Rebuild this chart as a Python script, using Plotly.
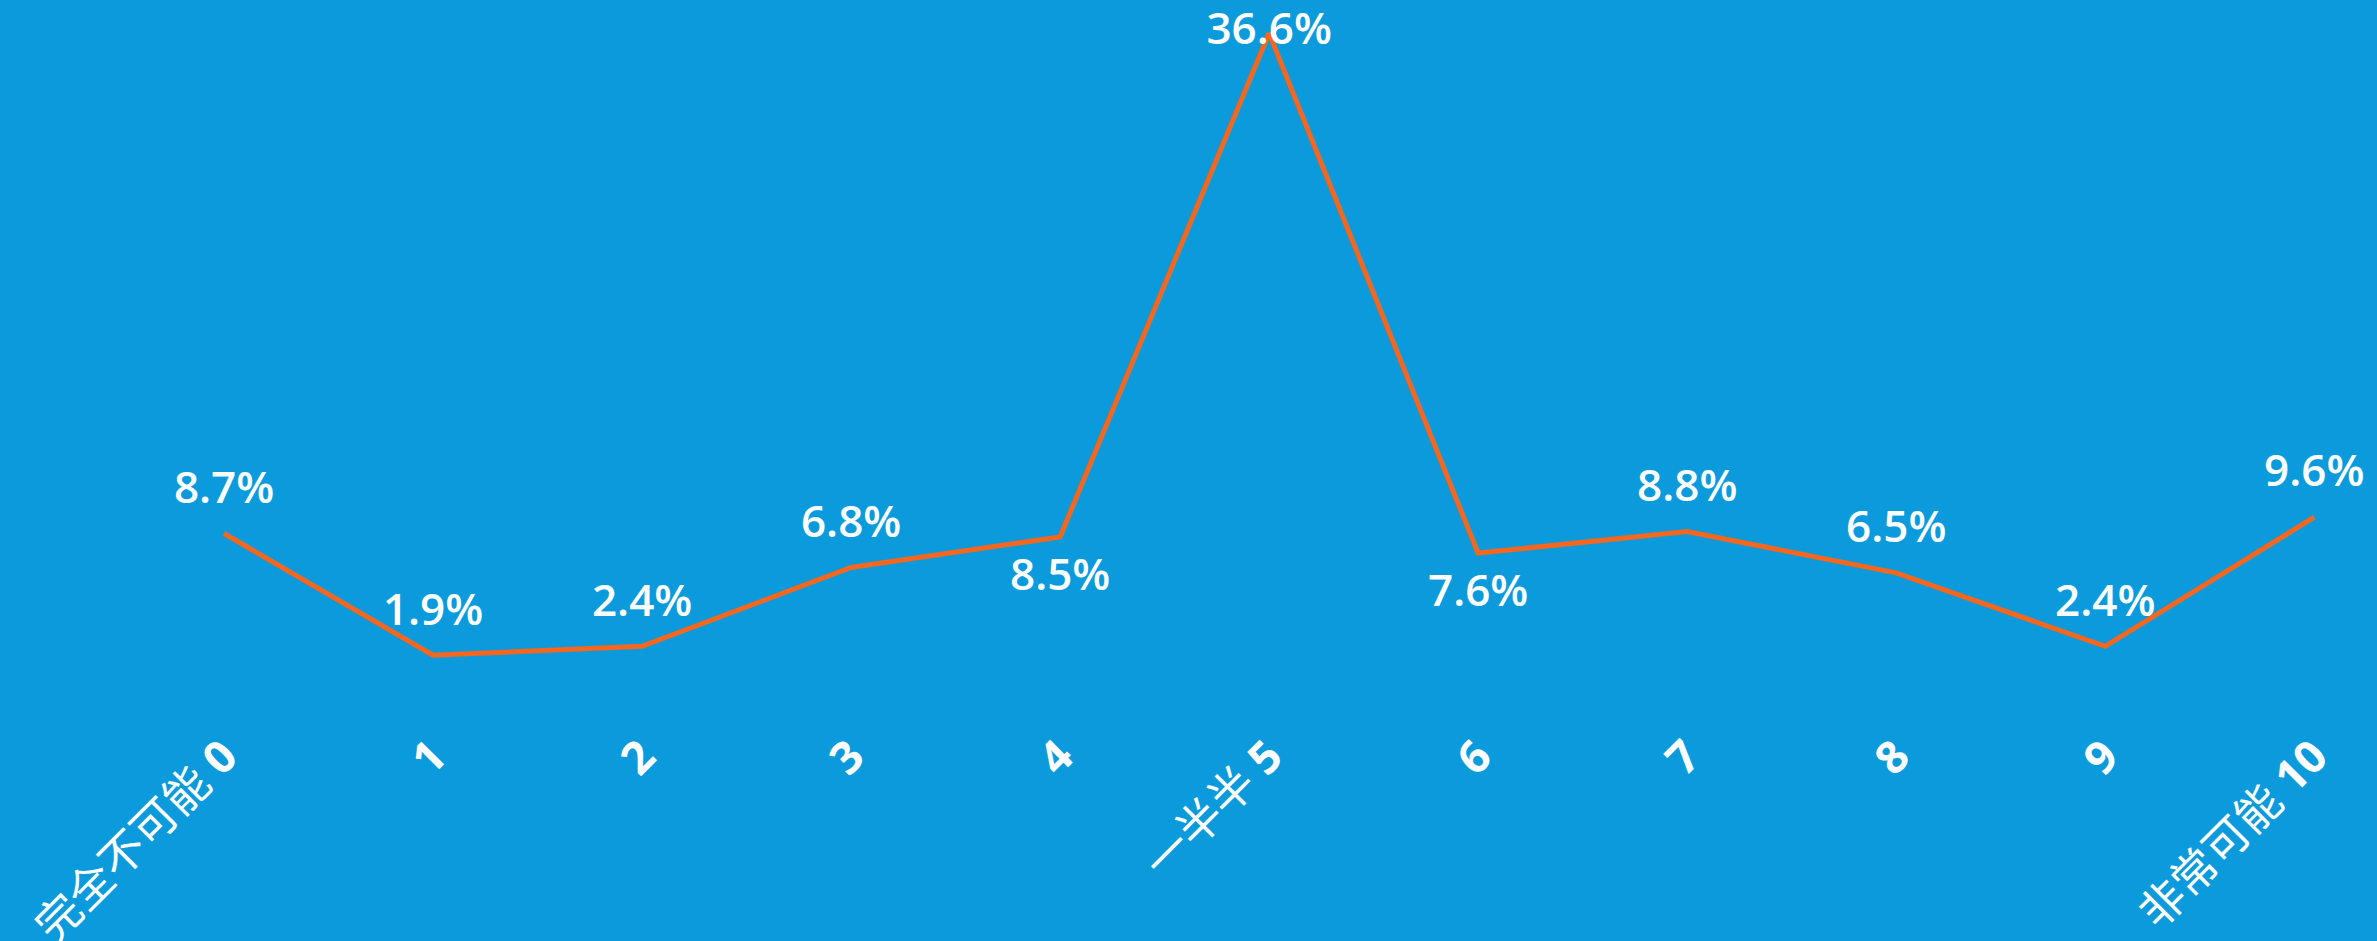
import plotly.graph_objects as go

categories = ["完全不可能 0", "1", "2", "3", "4", "一半半 5", "6", "7", "8", "9", "非常可能 10"]
values = [8.7, 1.9, 2.4, 6.8, 8.5, 36.6, 7.6, 8.8, 6.5, 2.4, 9.6]
label_positions = ["top center", "top center", "top center", "top center", "bottom center",
                   "middle center", "bottom center", "top center", "top center", "top center", "top center"]

def fmt_tick(c):
    parts = c.rsplit(" ", 1)
    if len(parts) == 2:
        return parts[0] + " <b>" + parts[1] + "</b>"
    return "<b>" + c + "</b>"

xs = list(range(len(categories)))
BG = "#0B9BDC"

fig = go.Figure()
fig.add_trace(go.Scatter(
    x=xs, y=values,
    mode="lines+markers+text",
    line=dict(color="#F5661E", width=5),
    marker=dict(size=30, color="rgba(0,0,0,0)"),
    text=[f"{v:.1f}%" for v in values],
    textposition=label_positions,
    textfont=dict(family="Open Sans, Noto Sans CJK SC", size=44, color="white", weight=600),
    cliponaxis=False,
    hoverinfo="skip",
))

fig.update_layout(
    width=2377, height=941,
    paper_bgcolor=BG, plot_bgcolor=BG,
    margin=dict(l=0, r=0, t=0, b=221, autoexpand=False),
    showlegend=False,
)
fig.update_xaxes(
    range=[-1.072, 10.30],
    tickvals=xs,
    ticktext=[fmt_tick(c) for c in categories],
    tickangle=-45,
    tickfont=dict(family="Open Sans, Noto Sans CJK SC", size=45, color="white"),
    showgrid=False, zeroline=False, showline=False, ticks="",
    automargin=False,
)
fig.update_yaxes(
    range=[-1.71, 38.45],
    showgrid=False, zeroline=False, showline=False, showticklabels=False,
    automargin=False,
)

fig.write_html(
    "out.html",
    config={"displayModeBar": False},
    post_script="document.body.style.margin='0';document.body.style.padding='0';document.body.style.overflow='hidden';",
)
